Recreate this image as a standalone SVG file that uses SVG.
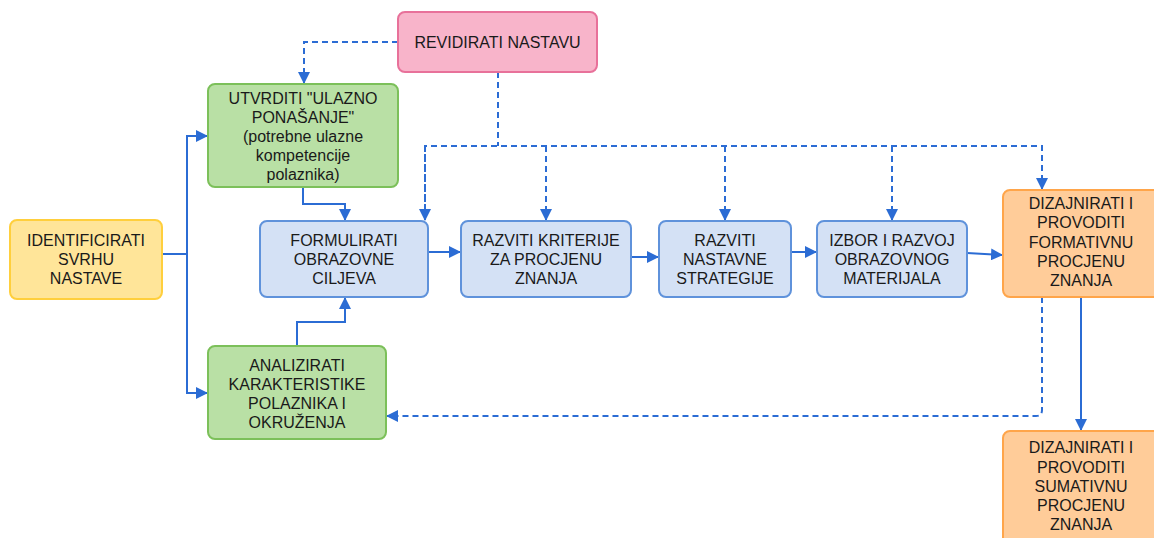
<svg xmlns="http://www.w3.org/2000/svg" width="1154" height="538" viewBox="0 0 1154 538">
<defs>
<style>
text{font-family:"Liberation Sans",Arial,sans-serif;font-size:16px;fill:#1a1a1a;text-anchor:middle}
.box{stroke-width:2}
.blue{fill:#d4e1f5;stroke:#5f92db}
.green{fill:#b9e0a5;stroke:#7cc05a}
.yellow{fill:#ffe599;stroke:#ffcf3d}
.orange{fill:#ffcc99;stroke:#ffa54a}
.pink{fill:#f8b4ca;stroke:#e8719a}
.c{fill:none;stroke:#2b6cd4;stroke-width:2}
.d{stroke-dasharray:6 4}
</style>
<marker id="ah" markerUnits="userSpaceOnUse" markerWidth="12" markerHeight="12" viewBox="0 0 12 12" refX="11" refY="6" orient="auto">
<path d="M0,0 L12,6 L0,12 Z" fill="#2b6cd4"/>
</marker>
</defs>
<g id="connectors">
<path class="c" d="M162 254 H187 V136 H207" marker-end="url(#ah)"/>
<path class="c" d="M187 254 V393 H207" marker-end="url(#ah)"/>
<path class="c" d="M303 187 V204 H345 V220" marker-end="url(#ah)"/>
<path class="c" d="M297 346 V322 H345 V298" marker-end="url(#ah)"/>
<path class="c" d="M428 252 H460" marker-end="url(#ah)"/>
<path class="c" d="M631 257 H658" marker-end="url(#ah)"/>
<path class="c" d="M791 252 H816" marker-end="url(#ah)"/>
<path class="c" d="M967 253 L1002 255" marker-end="url(#ah)"/>
<path class="c" d="M1081 297 V430" marker-end="url(#ah)"/>
<path class="c d" d="M398 42 H304 V83" marker-end="url(#ah)"/>
<path class="c d" d="M498 72 V146"/>
<path class="c d" d="M425 220 V146 H1042 V189" marker-end="url(#ah)"/>
<path class="c d" d="M425 146 V220" marker-end="url(#ah)"/>
<path class="c d" d="M546 146 V220" marker-end="url(#ah)"/>
<path class="c d" d="M725 146 V220" marker-end="url(#ah)"/>
<path class="c d" d="M892 146 V220" marker-end="url(#ah)"/>
<path class="c d" d="M1042 297 V410 Q1042 416 1036 416 H387" marker-end="url(#ah)"/>
</g>
<g id="revidirati">
<rect class="box pink" x="398" y="12" width="199" height="60" rx="7"/>
<text x="497.5" y="47.5">REVIDIRATI NASTAVU</text>
</g>
<g id="utvrditi">
<rect class="box green" x="208" y="84" width="190" height="103" rx="7"/>
<text x="303" y="103.5">UTVRDITI "ULAZNO</text>
<text x="303" y="122.7">PONAŠANJE"</text>
<text x="303" y="141.9">(potrebne ulazne</text>
<text x="303" y="161.1">kompetencije</text>
<text x="303" y="180.3">polaznika)</text>
</g>
<g id="identificirati">
<rect class="box yellow" x="10" y="220" width="152" height="79" rx="7"/>
<text x="86" y="246">IDENTIFICIRATI</text>
<text x="86" y="265">SVRHU</text>
<text x="86" y="284">NASTAVE</text>
</g>
<g id="formulirati">
<rect class="box blue" x="260" y="221" width="168" height="76" rx="7"/>
<text x="344" y="246">FORMULIRATI</text>
<text x="344" y="265">OBRAZOVNE</text>
<text x="344" y="284">CILJEVA</text>
</g>
<g id="kriteriji">
<rect class="box blue" x="461" y="221" width="170" height="76" rx="7"/>
<text x="546" y="246">RAZVITI KRITERIJE</text>
<text x="546" y="265">ZA PROCJENU</text>
<text x="546" y="284">ZNANJA</text>
</g>
<g id="strategije">
<rect class="box blue" x="659" y="221" width="132" height="76" rx="7"/>
<text x="725" y="246">RAZVITI</text>
<text x="725" y="265">NASTAVNE</text>
<text x="725" y="284">STRATEGIJE</text>
</g>
<g id="materijal">
<rect class="box blue" x="817" y="221" width="150" height="76" rx="7"/>
<text x="892" y="246">IZBOR I RAZVOJ</text>
<text x="892" y="265">OBRAZOVNOG</text>
<text x="892" y="284">MATERIJALA</text>
</g>
<g id="formativna">
<rect class="box orange" x="1003" y="190" width="157" height="107" rx="7"/>
<text x="1081" y="208.5">DIZAJNIRATI I</text>
<text x="1081" y="228">PROVODITI</text>
<text x="1081" y="247.5">FORMATIVNU</text>
<text x="1081" y="267">PROCJENU</text>
<text x="1081" y="286">ZNANJA</text>
</g>
<g id="analizirati">
<rect class="box green" x="208" y="346" width="178" height="93" rx="7"/>
<text x="297" y="370.5">ANALIZIRATI</text>
<text x="297" y="389.5">KARAKTERISTIKE</text>
<text x="297" y="408.5">POLAZNIKA I</text>
<text x="297" y="427.5">OKRUŽENJA</text>
</g>
<g id="sumativna">
<rect class="box orange" x="1003" y="431" width="157" height="120" rx="7"/>
<text x="1081" y="453">DIZAJNIRATI I</text>
<text x="1081" y="472.5">PROVODITI</text>
<text x="1081" y="491.5">SUMATIVNU</text>
<text x="1081" y="510.5">PROCJENU</text>
<text x="1081" y="529.5">ZNANJA</text>
</g>
</svg>
